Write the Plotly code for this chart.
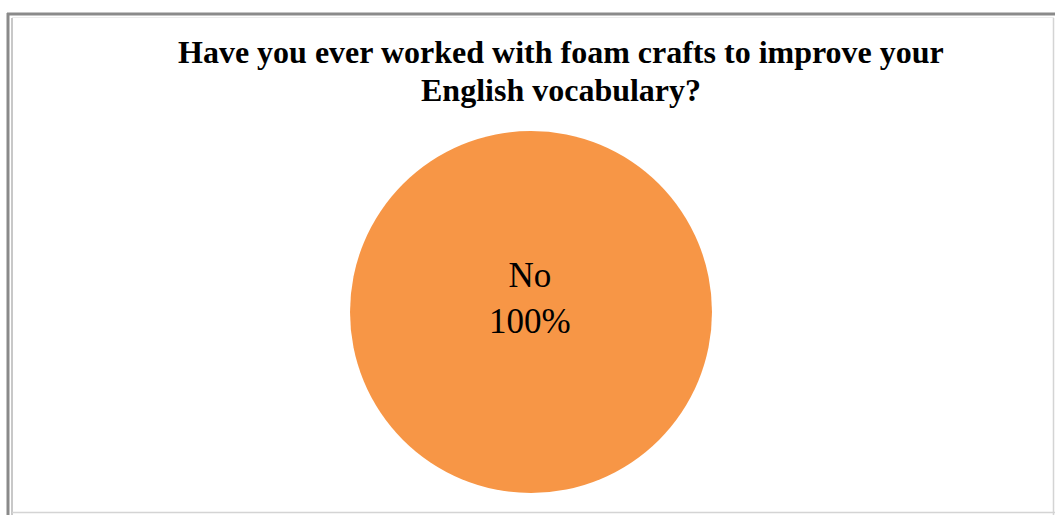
import plotly.graph_objects as go

# Survey answer shares
labels = ["No"]
values = [100]
colors = ["#F79646"]

title_lines = [
    "Have you ever worked with foam crafts to improve your",
    "English vocabulary?",
]

W, H = 1055, 515

fig = go.Figure(
    go.Pie(
        labels=labels,
        values=values,
        marker=dict(colors=colors, line=dict(width=0)),
        textinfo="none",
        sort=False,
        showlegend=False,
        hoverinfo="label+percent",
        domain=dict(x=[350 / W, 712 / W], y=[(H - 493) / H, (H - 131) / H]),
    )
)


def px_x(v):
    return v / W


def px_y(v):
    return 1 - v / H


shapes = [
    # dark outer frame lines (top and left)
    dict(type="line", xref="paper", yref="paper", x0=px_x(7), x1=px_x(1055), y0=px_y(14), y1=px_y(14),
         line=dict(color="#8a8a8a", width=3)),
    dict(type="line", xref="paper", yref="paper", x0=px_x(8), x1=px_x(8), y0=px_y(13), y1=px_y(515),
         line=dict(color="#8a8a8a", width=3)),
    # light inner frame
    dict(type="line", xref="paper", yref="paper", x0=px_x(12), x1=px_x(12), y0=px_y(18), y1=px_y(515),
         line=dict(color="#c8c8c8", width=2)),
    dict(type="line", xref="paper", yref="paper", x0=px_x(12), x1=px_x(1054), y0=px_y(17.5), y1=px_y(17.5),
         line=dict(color="#ececec", width=1)),
    dict(type="line", xref="paper", yref="paper", x0=px_x(1053.5), x1=px_x(1053.5), y0=px_y(18), y1=px_y(515),
         line=dict(color="#d4d4d4", width=1.5)),
    dict(type="line", xref="paper", yref="paper", x0=px_x(12), x1=px_x(1055), y0=px_y(512.5), y1=px_y(512.5),
         line=dict(color="#d4d4d4", width=1.5)),
]

annotations = []
# chart title, one annotation per line
for line, yc in zip(title_lines, [52, 90]):
    annotations.append(dict(
        text="<b>" + line + "</b>",
        xref="paper", yref="paper",
        x=561 / W, y=px_y(yc),
        xanchor="center", yanchor="middle",
        showarrow=False,
        font=dict(family="Liberation Serif", size=32, color="black"),
    ))

# slice data label (category name and share)
total = sum(values)
pct = round(100 * values[0] / total)
annotations.append(dict(
    text=f"{labels[0]}<br>{pct}%",
    xref="paper", yref="paper",
    x=530 / W, y=px_y(298),
    xanchor="center", yanchor="middle",
    showarrow=False,
    align="center",
    font=dict(family="Liberation Serif", size=35, color="black"),
))

fig.update_layout(
    width=W,
    height=H,
    margin=dict(l=0, r=0, t=0, b=0),
    paper_bgcolor="white",
    plot_bgcolor="white",
    shapes=shapes,
    annotations=annotations,
)

fig.write_html("out.html")
